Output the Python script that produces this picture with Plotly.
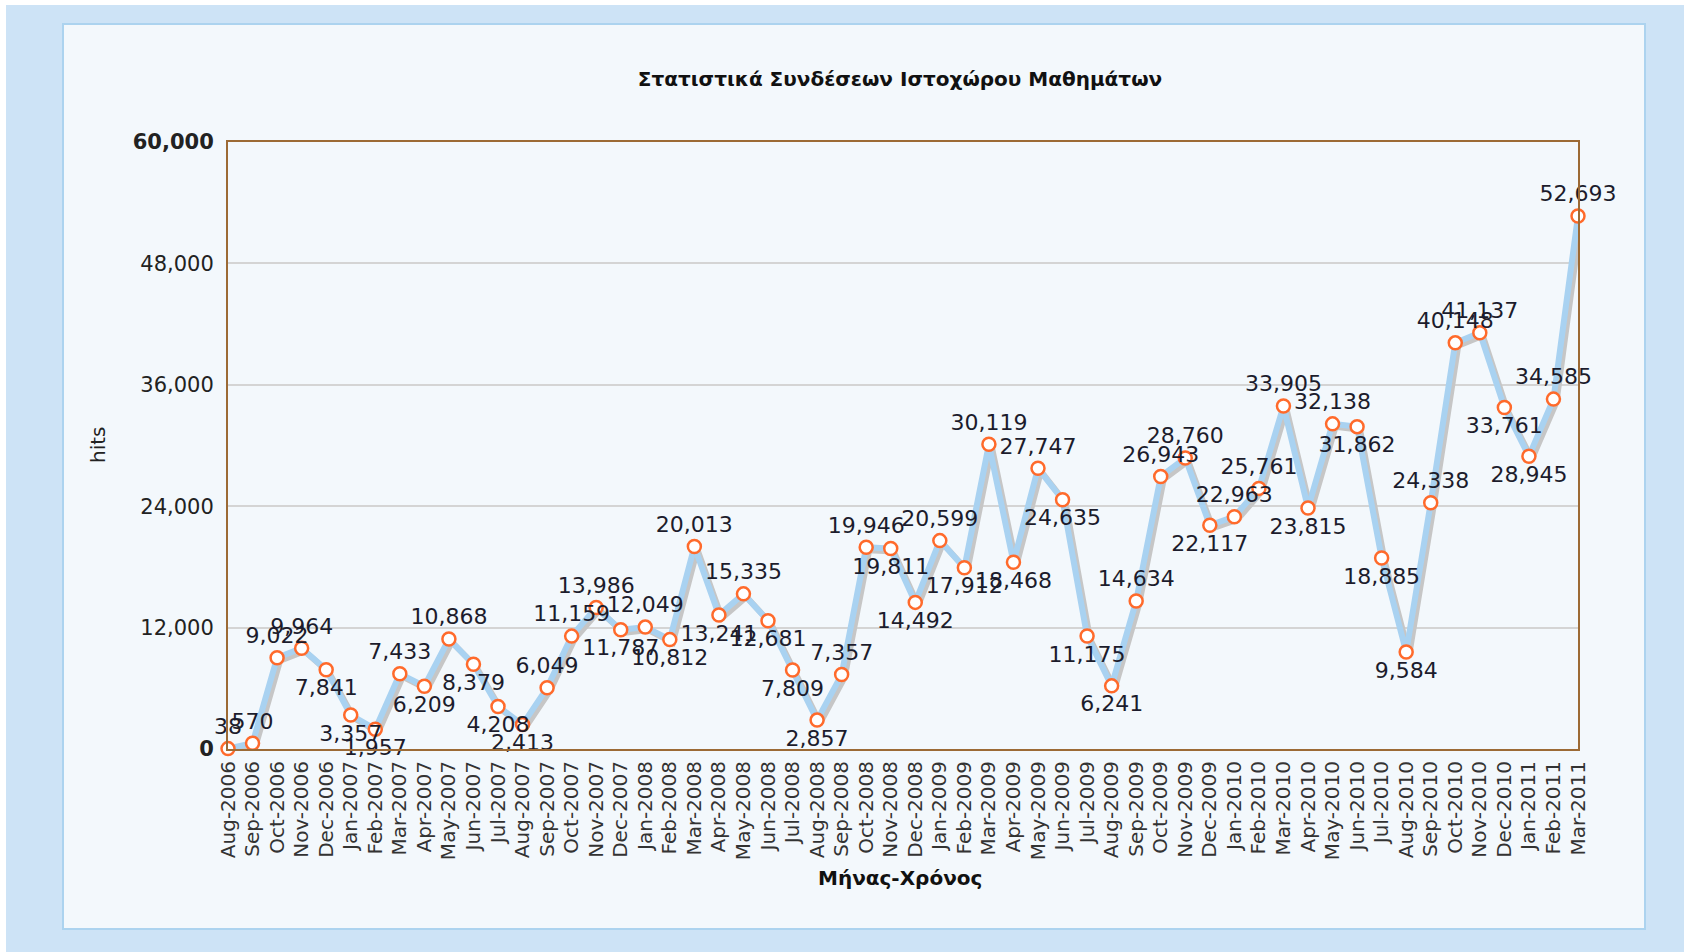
import plotly.graph_objects as go

# Monthly hit counts of the course website
months = [
    "Aug-2006", "Sep-2006", "Oct-2006", "Nov-2006", "Dec-2006",
    "Jan-2007", "Feb-2007", "Mar-2007", "Apr-2007", "May-2007", "Jun-2007",
    "Jul-2007", "Aug-2007", "Sep-2007", "Oct-2007", "Nov-2007", "Dec-2007",
    "Jan-2008", "Feb-2008", "Mar-2008", "Apr-2008", "May-2008", "Jun-2008",
    "Jul-2008", "Aug-2008", "Sep-2008", "Oct-2008", "Nov-2008", "Dec-2008",
    "Jan-2009", "Feb-2009", "Mar-2009", "Apr-2009", "May-2009", "Jun-2009",
    "Jul-2009", "Aug-2009", "Sep-2009", "Oct-2009", "Nov-2009", "Dec-2009",
    "Jan-2010", "Feb-2010", "Mar-2010", "Apr-2010", "May-2010", "Jun-2010",
    "Jul-2010", "Aug-2010", "Sep-2010", "Oct-2010", "Nov-2010", "Dec-2010",
    "Jan-2011", "Feb-2011", "Mar-2011",
]
hits = [
    38, 570, 9022, 9964, 7841,
    3357, 1957, 7433, 6209, 10868, 8379,
    4208, 2413, 6049, 11159, 13986, 11787,
    12049, 10812, 20013, 13241, 15335, 12681,
    7809, 2857, 7357, 19946, 19811, 14492,
    20599, 17912, 30119, 18468, 27747, 24635,
    11175, 6241, 14634, 26943, 28760, 22117,
    22963, 25761, 33905, 23815, 32138, 31862,
    18885, 9584, 24338, 40148, 41137, 33761,
    28945, 34585, 52693,
]
y_ticks = [0, 12000, 24000, 36000, 48000, 60000]
y_tick_text = ["<b>0</b>", "12,000", "24,000", "36,000", "48,000", "<b>60,000</b>"]

title_text = "Στατιστικά Συνδέσεων Ιστοχώρου Μαθημάτων"
x_title = "Μήνας-Χρόνος"
y_title = "hits"

# page geometry (pixels)
W, H = 1684, 952
ML, MR, MT, MB = 228, 106, 142, 203
PW, PH = W - ML - MR, H - MT - MB
Y_MAX = 60000
N = len(months)


def xp(px):
    return (px - ML) / PW


def yp(py):
    return (H - MB - py) / PH


# value labels sit above a point when the series rises into it, below otherwise
positions = ["top center"]
for i in range(1, N):
    positions.append("top center" if hits[i] >= hits[i - 1] else "bottom center")
labels = [f"{v:,}" for v in hits]

font_family = "DejaVu Sans, Verdana, sans-serif"

# soft drop shadow: same series on a hidden axis pair nudged a few pixels
dx_px, dy_px = 3, 3
dx = dx_px / PW * (N - 1)
dy = dy_px / PH * Y_MAX

fig = go.Figure()
fig.add_trace(go.Scatter(
    x=months, y=hits, mode="lines",
    line=dict(color="#c6c6c6", width=6),
    xaxis="x", yaxis="y", hoverinfo="skip", showlegend=False,
    cliponaxis=False,
))
fig.add_trace(go.Scatter(
    x=months, y=hits, mode="lines+markers+text",
    line=dict(color="#a9d2f1", width=6),
    marker=dict(symbol="circle", size=13, color="white",
                line=dict(color="#ff6a2b", width=2.5)),
    text=labels, textposition=positions,
    textfont=dict(family=font_family, size=22, color="#1c1c2c"),
    xaxis="x2", yaxis="y2", showlegend=False, cliponaxis=False,
))

axis_font = dict(family=font_family, size=21, color="#222222")

fig.update_layout(
    width=W, height=H,
    margin=dict(l=ML, r=MR, t=MT, b=MB, pad=0),
    paper_bgcolor="#cde3f6",
    plot_bgcolor="white",
    showlegend=False,
    title=dict(
        text=f"<b>{title_text}</b>",
        x=xp(900), xref="paper", xanchor="center",
        y=1 - 79 / H, yref="container", yanchor="middle",
        font=dict(family=font_family, size=20, color="#111111"),
    ),
    # shadow axes (hidden, shifted)
    xaxis=dict(
        type="category", categoryorder="array", categoryarray=months,
        range=[-dx, N - 1 - dx], visible=False, showgrid=False,
    ),
    yaxis=dict(range=[dy, Y_MAX + dy], visible=False, showgrid=False),
    # visible axes
    xaxis2=dict(
        type="category", categoryorder="array", categoryarray=months,
        overlaying="x", range=[0, N - 1],
        tickmode="array", tickvals=months, ticktext=months,
        tickangle=-90, tickfont=dict(family=font_family, size=20, color="#333333"),
        showgrid=False, showline=True, linecolor="#9c6a35", linewidth=2,
        mirror=True, ticks="", ticklabelstandoff=2,
    ),
    yaxis2=dict(
        overlaying="y", range=[0, Y_MAX],
        tickvals=y_ticks, ticktext=y_tick_text, tickfont=axis_font,
        showgrid=True, gridcolor="#d4d4d4", gridwidth=1.5,
        zeroline=False, showline=True, linecolor="#9c6a35", linewidth=2,
        mirror=True, ticks="", ticklabelstandoff=8,
    ),
    shapes=[
        # white strips along the top and left edges
        dict(type="rect", xref="paper", yref="paper", layer="below",
             x0=xp(0), x1=xp(W), y0=yp(5), y1=yp(0),
             fillcolor="white", line=dict(width=0)),
        dict(type="rect", xref="paper", yref="paper", layer="below",
             x0=xp(0), x1=xp(6), y0=yp(H), y1=yp(0),
             fillcolor="white", line=dict(width=0)),
        # inner chart panel
        dict(type="rect", xref="paper", yref="paper", layer="below",
             x0=xp(63), x1=xp(1645), y0=yp(929), y1=yp(24),
             fillcolor="#f3f8fc", line=dict(color="#acd3ef", width=2)),
    ],
    annotations=[
        dict(text=y_title, xref="paper", yref="paper", x=xp(98), y=yp(445),
             textangle=-90, showarrow=False, xanchor="center", yanchor="middle",
             font=dict(family=font_family, size=20, color="#222222")),
        dict(text=f"<b>{x_title}</b>", xref="paper", yref="paper", x=xp(900), y=yp(878),
             showarrow=False, xanchor="center", yanchor="middle",
             font=dict(family=font_family, size=20, color="#111111")),
    ],
)

fig.write_html("out.html")
